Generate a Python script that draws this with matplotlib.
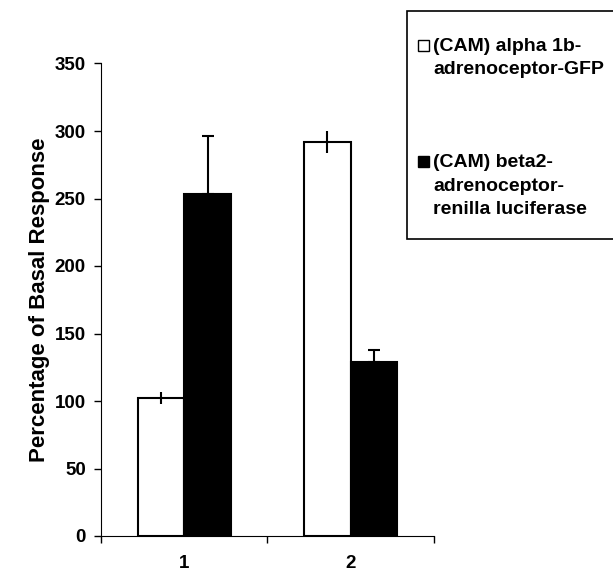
import matplotlib
matplotlib.use('Agg')
import matplotlib.pyplot as plt
from matplotlib.patches import Rectangle
import numpy as np

# Data
groups = ['1', '2']
alpha_vals = [102, 292]
alpha_err = [4.5, 8]
beta_vals = [253, 129]
beta_err = [43, 9]
labels = ['(CAM) alpha 1b-\nadrenoceptor-GFP',
          '(CAM) beta2-\nadrenoceptor-\nrenilla luciferase']

plt.rcParams['font.family'] = ['Liberation Sans', 'DejaVu Sans']
plt.rcParams['font.weight'] = 'bold'

fig = plt.figure(figsize=(6.13, 5.76), dpi=100)
ax = fig.add_axes([101/613, 40/576, 333/613, 472.5/576])

x = np.arange(1, len(groups) + 1)
w = 0.28
ax.bar(x - w/2, alpha_vals, w, color='white', edgecolor='black', linewidth=1.5)
ax.bar(x + w/2, beta_vals, w, color='black', edgecolor='black', linewidth=1.5)
ax.errorbar(x - w/2, alpha_vals, yerr=alpha_err, fmt='none', ecolor='black',
            elinewidth=1.5, capsize=0)
ax.errorbar(x + w/2, beta_vals, yerr=[[0, 0], beta_err], fmt='none', ecolor='black',
            elinewidth=1.5, capsize=4, capthick=1.5)

ax.set_xlim(0.5, len(groups) + 0.5)
ax.set_ylim(0, 350)
ax.set_yticks(range(0, 351, 50))
ax.set_xticks(x)
ax.set_xticklabels(groups, fontsize=13.5, fontweight='bold')
ax.set_xticks(np.arange(0.5, len(groups) + 1, 1), minor=True)
ax.tick_params(axis='x', which='major', length=0, pad=14)
ax.tick_params(axis='x', which='minor', length=5, width=1)
ax.tick_params(axis='y', length=5, width=1, pad=6, labelsize=13.5)
for t in ax.get_yticklabels():
    t.set_fontweight('bold')
ax.spines['top'].set_visible(False)
ax.spines['right'].set_visible(False)
ax.set_ylabel('Percentage of Basal Response', fontsize=16, fontweight='bold', labelpad=3)

# Legend box (drawn by hand, figure pixels)
def fx(px):
    return px / 613

def fy(py):
    return 1 - py / 576

fig.patches.append(Rectangle((fx(407), fy(239)), fx(230), (239 - 11) / 576,
                             transform=fig.transFigure, facecolor='white',
                             edgecolor='black', linewidth=1.2))
colors = ['white', 'black']
baselines = [51, 167]
step = 23.5
for lab, c, b in zip(labels, colors, baselines):
    fig.patches.append(Rectangle((fx(418), fy(b)), fx(11), 11/576,
                                 transform=fig.transFigure, facecolor=c,
                                 edgecolor='black', linewidth=1))
    for i, line in enumerate(lab.split('\n')):
        fig.text(fx(433), fy(b + i * step), line, fontsize=14, fontweight='bold',
                 va='baseline', ha='left')

fig.savefig('out.png', dpi=100)
